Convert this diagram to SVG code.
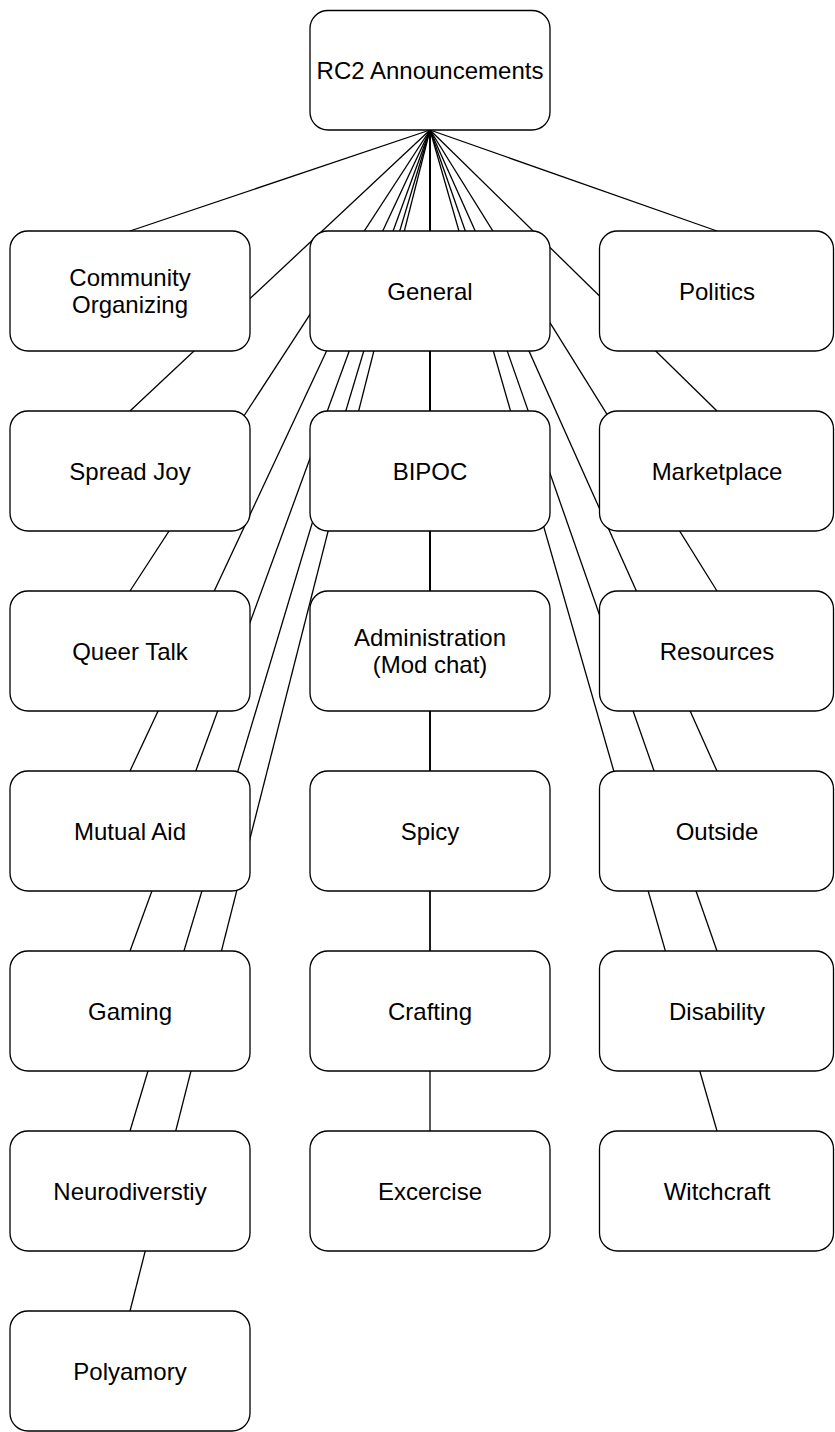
<svg xmlns="http://www.w3.org/2000/svg" width="835" height="1432" viewBox="0 0 835 1432">
<style>
.n rect{fill:#fff;stroke:#000;stroke-width:1.3}
.n text{font-family:"Liberation Sans",Arial,sans-serif;font-size:24px;fill:#000;text-anchor:middle}
#edges line{stroke:#000;stroke-width:1.3}
</style>
<rect width="835" height="1432" fill="#fff"/>
<g id="edges">
<line x1="430" y1="130" x2="130" y2="231"/>
<line x1="430" y1="130" x2="130" y2="411"/>
<line x1="430" y1="130" x2="130" y2="591"/>
<line x1="430" y1="130" x2="130" y2="771"/>
<line x1="430" y1="130" x2="130" y2="951"/>
<line x1="430" y1="130" x2="130" y2="1131"/>
<line x1="430" y1="130" x2="130" y2="1311"/>
<line x1="430" y1="130" x2="430" y2="231"/>
<line x1="430" y1="130" x2="430" y2="411"/>
<line x1="430" y1="130" x2="430" y2="591"/>
<line x1="430" y1="130" x2="430" y2="771"/>
<line x1="430" y1="130" x2="430" y2="951"/>
<line x1="430" y1="130" x2="430" y2="1131"/>
<line x1="430" y1="130" x2="717" y2="231"/>
<line x1="430" y1="130" x2="717" y2="411"/>
<line x1="430" y1="130" x2="717" y2="591"/>
<line x1="430" y1="130" x2="717" y2="771"/>
<line x1="430" y1="130" x2="717" y2="951"/>
<line x1="430" y1="130" x2="717" y2="1131"/>
</g>
<g id="root" class="n"><rect x="310" y="10.5" width="240" height="119.5" rx="18"/><text x="430" y="79">RC2 Announcements</text></g>

<g id="community" class="n"><rect x="10" y="231" width="240" height="120" rx="18"/><text x="130" y="285.75">Community</text><text x="130" y="313.25">Organizing</text></g>
<g id="spreadjoy" class="n"><rect x="10" y="411" width="240" height="120" rx="18"/><text x="130" y="479.5">Spread Joy</text></g>
<g id="queertalk" class="n"><rect x="10" y="591" width="240" height="120" rx="18"/><text x="130" y="659.5">Queer Talk</text></g>
<g id="mutualaid" class="n"><rect x="10" y="771" width="240" height="120" rx="18"/><text x="130" y="839.5">Mutual Aid</text></g>
<g id="gaming" class="n"><rect x="10" y="951" width="240" height="120" rx="18"/><text x="130" y="1019.5">Gaming</text></g>
<g id="neuro" class="n"><rect x="10" y="1131" width="240" height="120" rx="18"/><text x="130" y="1199.5">Neurodiverstiy</text></g>
<g id="polyamory" class="n"><rect x="10" y="1311" width="240" height="120" rx="18"/><text x="130" y="1379.5">Polyamory</text></g>

<g id="general" class="n"><rect x="310" y="231" width="240" height="120" rx="18"/><text x="430" y="299.5">General</text></g>
<g id="bipoc" class="n"><rect x="310" y="411" width="240" height="120" rx="18"/><text x="430" y="479.5">BIPOC</text></g>
<g id="admin" class="n"><rect x="310" y="591" width="240" height="120" rx="18"/><text x="430" y="645.75">Administration</text><text x="430" y="673.25">(Mod chat)</text></g>
<g id="spicy" class="n"><rect x="310" y="771" width="240" height="120" rx="18"/><text x="430" y="839.5">Spicy</text></g>
<g id="crafting" class="n"><rect x="310" y="951" width="240" height="120" rx="18"/><text x="430" y="1019.5">Crafting</text></g>
<g id="excercise" class="n"><rect x="310" y="1131" width="240" height="120" rx="18"/><text x="430" y="1199.5">Excercise</text></g>

<g id="politics" class="n"><rect x="599.5" y="231" width="234" height="120" rx="18"/><text x="717" y="299.5">Politics</text></g>
<g id="marketplace" class="n"><rect x="599.5" y="411" width="234" height="120" rx="18"/><text x="717" y="479.5">Marketplace</text></g>
<g id="resources" class="n"><rect x="599.5" y="591" width="234" height="120" rx="18"/><text x="717" y="659.5">Resources</text></g>
<g id="outside" class="n"><rect x="599.5" y="771" width="234" height="120" rx="18"/><text x="717" y="839.5">Outside</text></g>
<g id="disability" class="n"><rect x="599.5" y="951" width="234" height="120" rx="18"/><text x="717" y="1019.5">Disability</text></g>
<g id="witchcraft" class="n"><rect x="599.5" y="1131" width="234" height="120" rx="18"/><text x="717" y="1199.5">Witchcraft</text></g>
</svg>
